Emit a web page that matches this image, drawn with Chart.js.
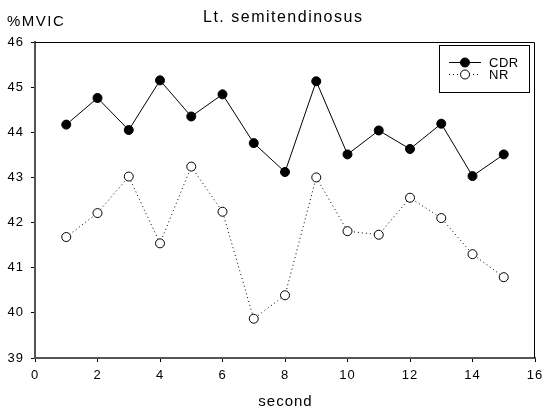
<!DOCTYPE html>
<html>
<head>
<meta charset="utf-8">
<script src="https://cdn.jsdelivr.net/npm/chart.js@4/dist/chart.umd.min.js"></script>
<style>
html,body{margin:0;padding:0;background:#fff;}
#wrap{width:542px;height:413px;position:relative;}
</style>
</head>
<body>
<div id="wrap"><canvas id="c" width="542" height="413"></canvas></div>
<script>
const seconds = [1,2,3,4,5,6,7,8,9,10,11,12,13,14,15];
const cdrValues = [44.17,44.76,44.05,45.15,44.35,44.84,43.76,43.12,45.13,43.51,44.04,43.63,44.19,43.03,43.51];
const nrValues  = [41.68,42.21,43.02,41.54,43.24,42.24,39.87,40.39,43.00,41.81,41.73,42.55,42.10,41.30,40.79];
const seriesNames = ['CDR','NR'];
const titleText = 'Lt. semitendinosus';
const yAxisLabel = '%MVIC';
const xAxisLabel = 'second';

const FONT = '"Liberation Sans", Arial, sans-serif';

const spacing = {
  id: 'spacing',
  beforeDraw(chart) { chart.ctx.letterSpacing = '1px'; }
};

const decor = {
  id: 'decor',
  afterDraw(chart) {
    const ctx = chart.ctx;
    const a = chart.chartArea;
    ctx.save();
    // top and right frame
    ctx.strokeStyle = '#000';
    ctx.lineWidth = 1;
    ctx.beginPath();
    ctx.moveTo(a.left, a.top + 0.5);
    ctx.lineTo(a.right - 0.5, a.top + 0.5);
    ctx.lineTo(a.right - 0.5, a.bottom);
    ctx.stroke();
    // texts
    ctx.fillStyle = '#000';
    ctx.textBaseline = 'middle';
    ctx.textAlign = 'left';
    ctx.letterSpacing = '1.5px';
    ctx.font = '16px ' + FONT;
    ctx.fillText(titleText, 203, 18);
    ctx.font = '15px ' + FONT;
    ctx.fillText(yAxisLabel, 7, 22);
    ctx.letterSpacing = '1px';
    const w = ctx.measureText(xAxisLabel).width;
    ctx.fillText(xAxisLabel, 285 - w / 2 + 0.5, 402);
    // legend box
    const bx = 439, by = 45, bw = 90, bh = 47;
    ctx.fillStyle = '#fff';
    ctx.fillRect(bx, by, bw, bh);
    ctx.strokeStyle = '#000';
    ctx.lineWidth = 1;
    ctx.strokeRect(bx + 0.5, by + 0.5, bw, bh);
    const rows = [62, 74];
    chart.data.datasets.forEach((ds, i) => {
      const y = rows[i];
      ctx.strokeStyle = ds.borderColor;
      ctx.lineWidth = 1;
      ctx.setLineDash(ds.borderDash || []);
      ctx.beginPath();
      ctx.moveTo(449, y + 0.5);
      ctx.lineTo(481, y + 0.5);
      ctx.stroke();
      ctx.setLineDash([]);
      ctx.beginPath();
      ctx.arc(465, y + 0.5, ds.pointRadius, 0, Math.PI * 2);
      ctx.fillStyle = ds.pointBackgroundColor;
      ctx.fill();
      ctx.strokeStyle = ds.pointBorderColor;
      ctx.stroke();
      ctx.fillStyle = '#000';
      ctx.font = '13px ' + FONT;
      ctx.letterSpacing = '0.5px';
      ctx.textAlign = 'left';
      ctx.fillText(ds.label, 489, y + 1);
    });
    ctx.restore();
  }
};

new Chart(document.getElementById('c'), {
  type: 'line',
  data: {
    datasets: [
      {
        label: seriesNames[0],
        data: seconds.map((s, i) => ({x: s, y: cdrValues[i]})),
        borderColor: '#000',
        borderWidth: 1,
        pointRadius: 4.5,
        pointBackgroundColor: '#000',
        pointBorderColor: '#000',
        pointBorderWidth: 1,
        tension: 0,
        fill: false
      },
      {
        label: seriesNames[1],
        data: seconds.map((s, i) => ({x: s, y: nrValues[i]})),
        borderColor: '#000',
        borderWidth: 1,
        borderDash: [1, 3],
        pointRadius: 4.5,
        pointBackgroundColor: '#fff',
        pointBorderColor: '#000',
        pointBorderWidth: 1,
        tension: 0,
        fill: false
      }
    ]
  },
  options: {
    responsive: false,
    animation: false,
    devicePixelRatio: 1,
    layout: { padding: { top: 42, right: 7, left: 0, bottom: 0 } },
    plugins: { legend: { display: false }, tooltip: { enabled: false }, title: { display: false } },
    scales: {
      x: {
        type: 'linear',
        min: 0, max: 16,
        ticks: { stepSize: 2, color: '#000', font: { family: FONT, size: 13 }, padding: 6, maxRotation: 0 },
        grid: { drawOnChartArea: false, drawTicks: true, tickLength: 4, color: '#000' },
        border: { color: '#555', width: 2 },
        afterFit(s) { s.height = 55; s.paddingLeft = 0; s.paddingRight = 0; }
      },
      y: {
        min: 39, max: 46,
        ticks: { stepSize: 1, color: '#000', font: { family: FONT, size: 13 }, padding: 7 },
        grid: { drawOnChartArea: false, drawTicks: true, tickLength: 4, color: '#000' },
        border: { color: '#555', width: 2 },
        afterFit(s) { s.width = 35; s.paddingTop = 0; s.paddingBottom = 0; }
      }
    }
  },
  plugins: [spacing, decor]
});
</script>
</body>
</html>
